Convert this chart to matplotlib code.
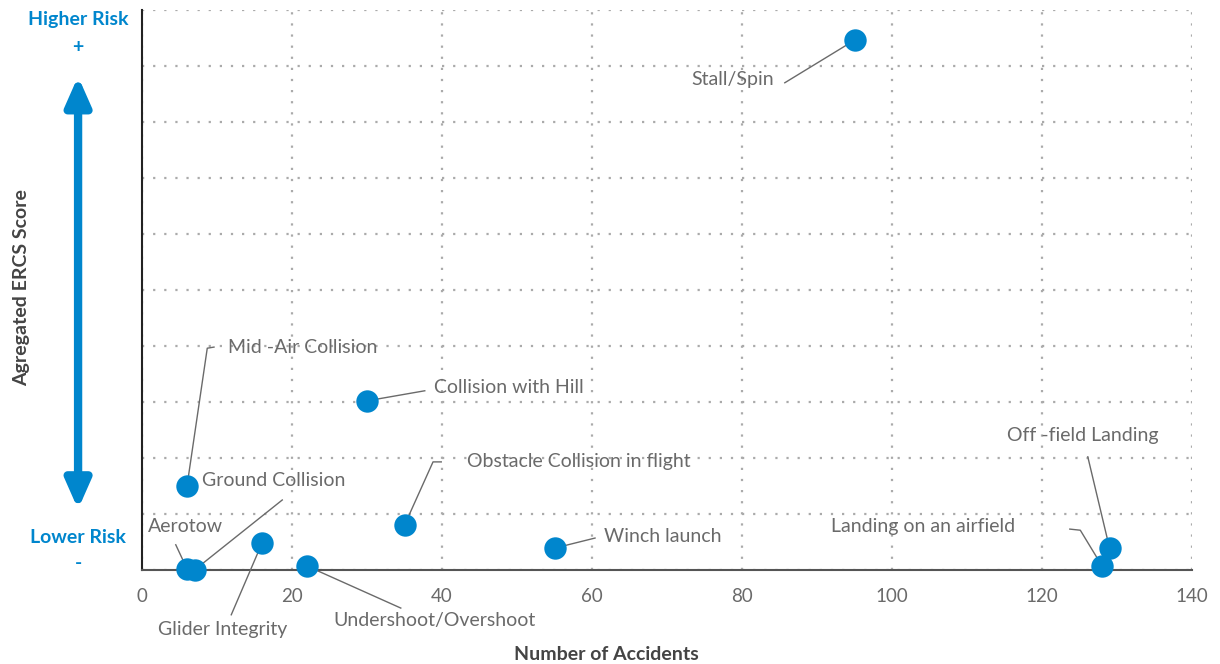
import matplotlib.pyplot as plt

# data
causes = ["Stall/Spin", "Collision with Hill", "Mid -Air Collision", "Ground Collision",
          "Aerotow", "Glider Integrity", "Undershoot/Overshoot", "Obstacle Collision in flight",
          "Winch launch", "Off -field Landing", "Landing on an airfield"]
accidents = [95, 30, 6, 7, 6, 16, 22, 35, 55, 129, 128]
ercs_score = [9.46, 3.02, 1.5, 0.0, 0.02, 0.48, 0.07, 0.8, 0.39, 0.39, 0.07]

# label placement (text position, leader path start) - layout only
text_pos = [(73.2, 8.75), (38.9, 3.25), (11.5, 3.98), (8.0, 1.6), (0.8, 0.77), (2.1, -1.07),
            (25.5, -0.9), (43.3, 1.93), (61.6, 0.6), (115.3, 2.41), (91.9, 0.77)]
leader_start = [[(85.7, 8.7)], [(37.7, 3.2)], [(9.6, 3.98), (8.7, 3.96)], [(18.7, 1.25)],
                [(4.5, 0.45)], [(11.9, -0.8)], [(34.5, -0.68)], [(39.9, 1.93), (38.8, 1.93)],
                [(60.4, 0.57)], [(126.1, 2.02)], [(123.7, 0.73), (125.1, 0.71)]]

blue = "#0086cd"
grey = "#6a6a6a"
plt.rcParams['font.family'] = ['Lato', 'DejaVu Sans']

fig = plt.figure(figsize=(12.2, 6.64), dpi=100)
ax = fig.add_axes([0.1164, 0.1416, 0.8607, 0.8434])

ax.set_xlim(0, 140)
ax.set_ylim(0, 10)
ax.set_xticks(range(0, 141, 20))
ax.set_yticks(range(0, 11))
ax.set_yticklabels([])
ax.tick_params(length=0, labelsize=13.5, colors=grey, pad=13)
ax.grid(True, color="#aaaaaa", linestyle=(0, (1, 4)), linewidth=1.6)
for s in ["top", "right"]:
    ax.spines[s].set_visible(False)
ax.spines["left"].set_color("#222222")
ax.spines["bottom"].set_color("#555555")
ax.spines["left"].set_linewidth(1.5)
ax.spines["bottom"].set_linewidth(1.5)

for i in range(len(causes)):
    pts = leader_start[i] + [(accidents[i], ercs_score[i])]
    ax.plot([p[0] for p in pts], [p[1] for p in pts], color=grey, lw=1, clip_on=False, zorder=3)
    ax.text(text_pos[i][0], text_pos[i][1], causes[i], fontsize=14, color=grey,
            va="center", ha="left", zorder=4)

ax.scatter(accidents, ercs_score, s=260, color=blue, clip_on=False, zorder=5, linewidths=0)

ax.set_xlabel("Number of Accidents", fontsize=14, fontweight="bold", color="#444444", labelpad=30)
ax.xaxis.set_label_coords(0.442, -0.135)
fig.text(0.018, 0.567, "Agregated ERCS Score", rotation=90, fontsize=14, fontweight="bold",
         color="#444444", ha="center", va="center")

# risk arrow on the left
fig.text(0.064, 0.97, "Higher Risk", fontsize=14, fontweight="bold", color=blue, ha="center", va="center")
fig.text(0.064, 0.929, "+", fontsize=14, fontweight="bold", color=blue, ha="center", va="center")
fig.text(0.064, 0.191, "Lower Risk", fontsize=14, fontweight="bold", color=blue, ha="center", va="center")
fig.text(0.064, 0.152, "-", fontsize=14, fontweight="bold", color=blue, ha="center", va="center")
ax.annotate("", xy=(0.064, 0.885), xytext=(0.064, 0.233), xycoords="figure fraction",
            textcoords="figure fraction",
            arrowprops=dict(arrowstyle="<|-|>,head_length=1.7,head_width=0.75", color=blue, lw=6,
                            shrinkA=0, shrinkB=0))

fig.savefig("out.png", dpi=100)
